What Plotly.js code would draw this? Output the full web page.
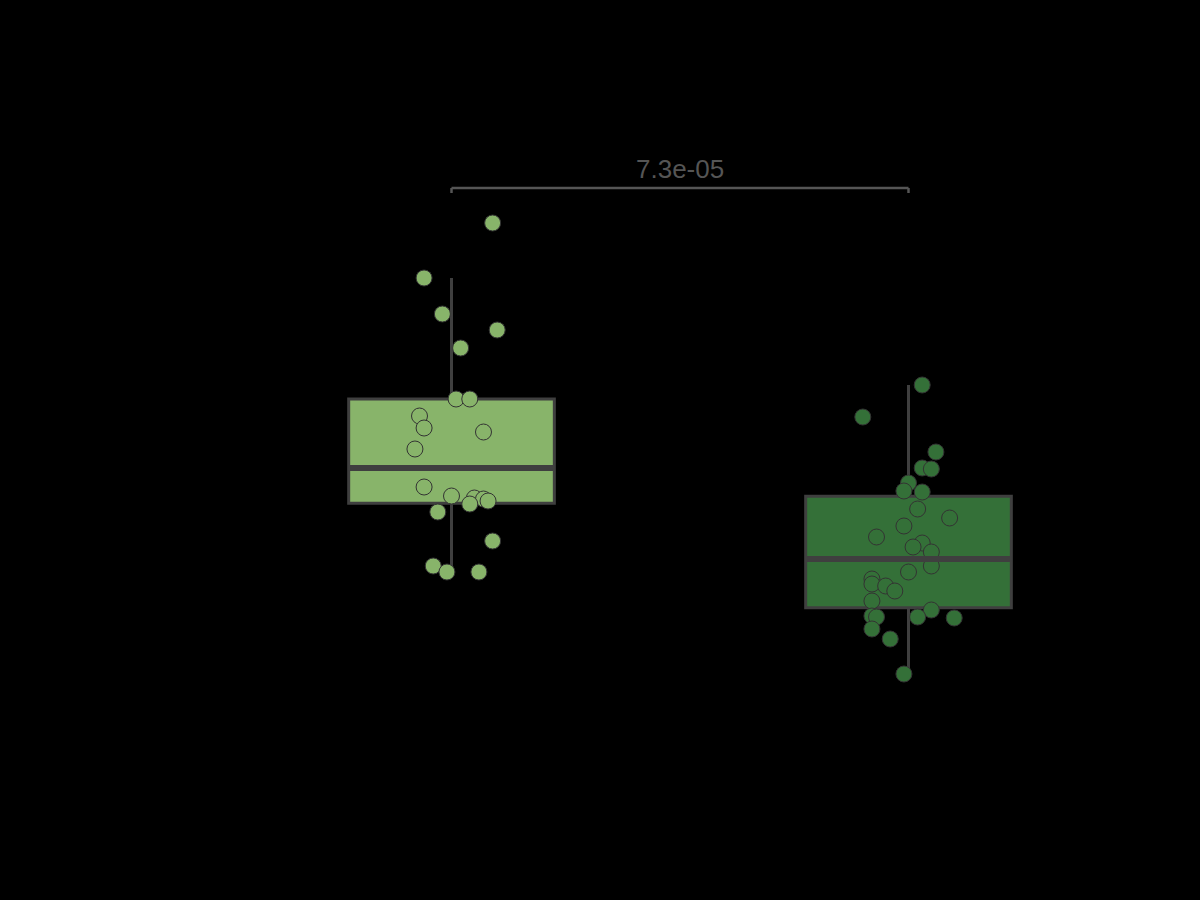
<!DOCTYPE html>
<html>
    <head>
        <script src="https://cdn.plot.ly/plotly-3.0.1.min.js"></script>
        <style>body { margin: 0; background: #000; }</style>
    </head>
    <body>
        <div id="plot"></div>
        <script type="text/javascript">
            // two groups, values; offsets are the strip jitter
            var groups = ['A', 'B'];
            var colors = ['#88b46a', '#347038'];

            var valuesA = [5.77, 5.22, 4.86, 4.70, 4.52, 4.01, 4.01, 3.84, 3.72, 3.68, 3.51,
                           3.13, 3.04, 3.02, 3.01, 2.99, 2.96, 2.88, 2.59, 2.34, 2.28, 2.28];
            var offsetsA = [0.09, -0.06, -0.02, 0.10, 0.02, 0.01, 0.04, -0.07, -0.06, 0.07, -0.08,
                            -0.06, 0.00, 0.05, 0.07, 0.08, 0.04, -0.03, 0.09, -0.04, -0.01, 0.06];

            var valuesB = [4.15, 3.83, 3.48, 3.32, 3.31, 3.17, 3.09, 3.08, 2.91, 2.82, 2.74,
                           2.63, 2.57, 2.53, 2.48, 2.34, 2.28, 2.21, 2.16, 2.14, 2.09, 1.99,
                           1.90, 1.84, 1.83, 1.83, 1.82, 1.71, 1.61, 1.26];
            var offsetsB = [0.03, -0.10, 0.06, 0.03, 0.05, -0.00, -0.01, 0.03, 0.02, 0.09, -0.01,
                            -0.07, 0.03, 0.01, 0.05, 0.05, -0.00, -0.08, -0.08, -0.05, -0.03, -0.08,
                            0.05, -0.08, -0.07, 0.02, 0.10, -0.08, -0.04, -0.01];

            var pValue = '7.3e-05';

            // numpy style percentile and 1.5 IQR whiskers
            function stats(vals) {
                var s = vals.slice().sort(function(a, b) { return a - b; });
                function pct(p) {
                    var pos = (s.length - 1) * p, lo = Math.floor(pos), f = pos - lo;
                    return lo + 1 < s.length ? s[lo] + f * (s[lo + 1] - s[lo]) : s[lo];
                }
                var q1 = pct(0.25), q3 = pct(0.75), iqr = q3 - q1;
                var inside = s.filter(function(v) { return v >= q1 - 1.5 * iqr && v <= q3 + 1.5 * iqr; });
                return {q1: q1, med: pct(0.5), q3: q3, lf: inside[0], uf: inside[inside.length - 1]};
            }

            var allValues = [valuesA, valuesB];
            var allOffsets = [offsetsA, offsetsB];
            var halfWidth = 0.225;
            var traces = [];
            var shapes = [];

            allValues.forEach(function(vals, i) {
                var st = stats(vals);
                traces.push({
                    type: 'box', x: [i], q1: [st.q1], median: [st.med], q3: [st.q3],
                    lowerfence: [st.lf], upperfence: [st.uf],
                    width: 2 * halfWidth, whiskerwidth: 0, boxpoints: false,
                    fillcolor: colors[i],
                    line: {color: '#3f3f3f', width: 3},
                    hoverinfo: 'skip', showlegend: false
                });
                // thicker median line like seaborn
                shapes.push({
                    type: 'line', xref: 'x', yref: 'y',
                    x0: i - halfWidth, x1: i + halfWidth, y0: st.med, y1: st.med,
                    line: {color: '#3f3f3f', width: 6}
                });
            });

            allValues.forEach(function(vals, i) {
                traces.push({
                    type: 'scatter', mode: 'markers',
                    x: allOffsets[i].map(function(o) { return i + o; }),
                    y: vals,
                    name: groups[i],
                    marker: {size: 16, color: colors[i], line: {color: '#333', width: 1}},
                    showlegend: false
                });
            });

            // significance bracket between the groups
            var bracketY = 6.12, tick = 0.05;
            shapes.push({type: 'line', xref: 'x', yref: 'y', x0: 0, x1: 1, y0: bracketY, y1: bracketY,
                         line: {color: '#555', width: 2.5}});
            shapes.push({type: 'line', xref: 'x', yref: 'y', x0: 0, x1: 0, y0: bracketY, y1: bracketY - tick,
                         line: {color: '#555', width: 2.5}});
            shapes.push({type: 'line', xref: 'x', yref: 'y', x0: 1, x1: 1, y0: bracketY, y1: bracketY - tick,
                         line: {color: '#555', width: 2.5}});

            var layout = {
                width: 1200, height: 900,
                margin: {l: 223, r: 63, t: 100, b: 100},
                paper_bgcolor: '#000', plot_bgcolor: '#000',
                xaxis: {range: [-0.5, 1.5], visible: false},
                yaxis: {range: [0, 7], visible: false},
                shapes: shapes,
                annotations: [{
                    xref: 'x', yref: 'y', x: 0.5, y: bracketY, yanchor: 'bottom', yshift: 2,
                    text: pValue, showarrow: false,
                    font: {family: 'Liberation Sans, Arial, sans-serif', size: 26, color: '#555'}
                }]
            };

            Plotly.newPlot('plot', traces, layout, {displayModeBar: false});
        </script>
    </body>
</html>
